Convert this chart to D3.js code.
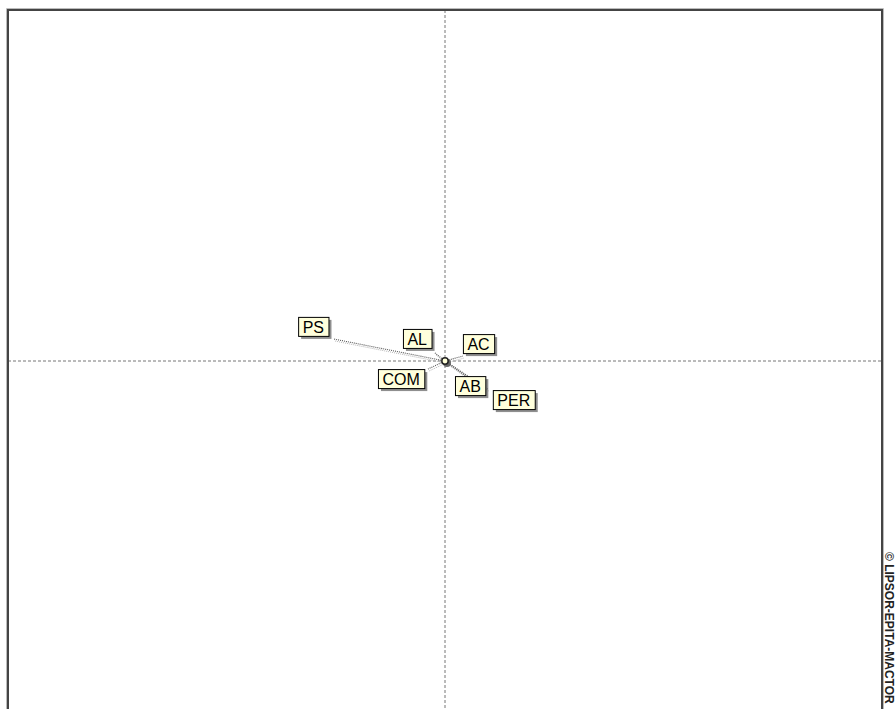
<!DOCTYPE html>
<html><head><meta charset="utf-8">
<script src="https://cdn.jsdelivr.net/npm/d3@7"></script>
<style>body{margin:0;background:#fff;}svg{display:block;}</style>
</head><body>
<svg id="chart" width="895" height="709"></svg>
<script>
// ---- data ----
const actors = ["PS", "AL", "AC", "COM", "AB", "PER"];
const xValues = [-0.256, -0.023, 0.041, -0.039, 0.048, 0.098];
const yValues = [0.063, 0.023, 0.014, -0.023, -0.043, -0.080];
const watermark = "\u00A9 LIPSOR-EPITA-MACTOR";

// ---- layout (pixel offsets of each label box's top-left from its point) ----
const labelOffset = {
  PS: [-35, -22], AL: [-32, -24], AC: [0, -22],
  COM: [-50, 0], AB: [-11, 0], PER: [5, 1]
};

(function () {
const svg = d3.select("#chart");
const pLeft = 8, pRight = 882, pTop = 10, pBottom = 712;
const x = d3.scaleLinear().domain([-1, 1]).range([pLeft, pRight]);
const y = d3.scaleLinear().domain([-1, 1]).range([pBottom, pTop]);

// axes (dashed)
const g = svg.append("g");
g.append("line").attr("x1", pLeft).attr("x2", pRight).attr("y1", y(0)).attr("y2", y(0))
  .attr("stroke", "#777").attr("stroke-width", 1).attr("stroke-dasharray", "3,2");
g.append("line").attr("x1", x(0)).attr("x2", x(0)).attr("y1", pTop).attr("y2", pBottom)
  .attr("stroke", "#777").attr("stroke-width", 1).attr("stroke-dasharray", "3,2");

// frame
svg.append("path")
  .attr("d", `M${pLeft},${pBottom + 5}V${pTop}H${pRight}V${pBottom + 5}`)
  .attr("fill", "none").attr("stroke", "#444").attr("stroke-width", 2);
svg.append("path")
  .attr("d", `M${pLeft - 1.5},${pBottom + 5}V${pTop - 1.5}H${pRight + 1.5}V${pBottom + 5}`)
  .attr("fill", "none").attr("stroke", "#bbb").attr("stroke-width", 1);

const data = actors.map((a, i) => ({ name: a, x: xValues[i], y: yValues[i] }));

// link lines (with light shadow)
const links = svg.append("g");
links.selectAll(".sh").data(data).join("line")
  .attr("x1", x(0) + 1).attr("y1", y(0) + 2)
  .attr("x2", d => x(d.x) + 1).attr("y2", d => y(d.y) + 2)
  .attr("stroke", "#b8b8b8").attr("stroke-width", 1).attr("stroke-dasharray", "1,1");
links.selectAll(".ln").data(data).join("line")
  .attr("x1", x(0)).attr("y1", y(0))
  .attr("x2", d => x(d.x)).attr("y2", d => y(d.y))
  .attr("stroke", "#555").attr("stroke-width", 1.1).attr("stroke-dasharray", "1,1");

// center point
svg.append("circle").attr("cx", x(0) + 2).attr("cy", y(0) + 2).attr("r", 4).attr("fill", "#666");
svg.append("circle").attr("cx", x(0)).attr("cy", y(0)).attr("r", 3.2)
  .attr("fill", "#ffffd8").attr("stroke", "#222").attr("stroke-width", 1.5);

// labels
const lbl = svg.append("g").selectAll("g").data(data).join("g")
  .attr("transform", d => {
    const o = labelOffset[d.name];
    return `translate(${x(d.x) + o[0]},${y(d.y) + o[1]})`;
  });
lbl.each(function (d) {
  const gg = d3.select(this);
  const shadow = gg.append("rect");
  const box = gg.append("rect");
  const t = gg.append("text").text(d.name)
    .attr("font-family", "Liberation Sans, Arial, sans-serif")
    .attr("font-size", 16).attr("fill", "#000")
    .attr("x", 4.5).attr("y", 16);
  const w = t.node().getComputedTextLength() + 9;
  const h = 19;
  shadow.attr("x", 3).attr("y", 3).attr("width", w).attr("height", h)
    .attr("fill", "#6a6a6a").attr("opacity", 0.75);
  box.attr("x", 0.5).attr("y", 0.5).attr("width", w).attr("height", h)
    .attr("fill", "#ffffdc").attr("stroke", "#000").attr("stroke-width", 1);
});

// watermark
svg.append("text").text(watermark)
  .attr("transform", "translate(884.5,552) rotate(90)")
  .attr("font-family", "Liberation Sans, Arial, sans-serif")
  .attr("font-size", 12).attr("font-weight", "bold").attr("fill", "#222");
})();
</script>
</body></html>
